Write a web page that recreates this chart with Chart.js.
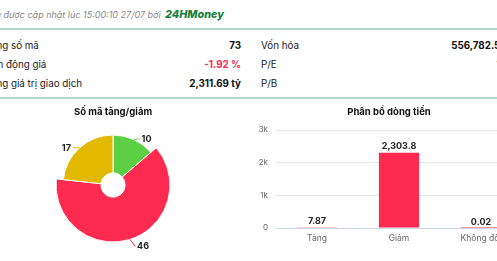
<!DOCTYPE html>
<html>
<head>
<meta charset="utf-8">
<script src="https://cdn.jsdelivr.net/npm/chart.js@4.4.0/dist/chart.umd.min.js"></script>
<style>
html, body { margin: 0; padding: 0; overflow: hidden; background: #fff; width: 497px; height: 261px; }
body { position: relative; font-family: Inter, "Noto Sans", sans-serif; color: #222; }
.abs { position: absolute; white-space: nowrap; }
.note { top: 8px; right: 273px; font-size: 9px; color: #8a8a8a; font-style: italic; }
.brand { font-size: 10.8px; font-weight: 800; color: #17803d; margin-left: 2px; }
.rule { left: 0; right: 0; height: 2px; background: #b3d8cc; }
.lbl { font-size: 9.8px; color: #222; }
.val { font-size: 9.8px; font-weight: 700; color: #111; text-align: right; }
.neg { color: #ff2a4f; }
</style>
</head>
<body>
<div class="abs note">Dữ liệu được cập nhật lúc 15:00:10 27/07 bởi <span class="brand">24HMoney</span></div>
<div class="abs rule" style="top:28px"></div>

<div class="abs lbl" style="left:-15px;top:40px">Tổng số mã</div>
<div class="abs val" style="right:256px;top:40px">73</div>
<div class="abs lbl" style="left:-17px;top:59px">Biến động giá</div>
<div class="abs val neg" style="right:256px;top:59px">-1.92 %</div>
<div class="abs lbl" style="left:-15px;top:78px">Tổng giá trị giao dịch</div>
<div class="abs val" style="right:256px;top:78px">2,311.69 tỷ</div>

<div class="abs lbl" style="left:261px;top:40px">Vốn hóa</div>
<div class="abs val" style="right:-22px;top:40px">556,782.54 tỷ</div>
<div class="abs lbl" style="left:261px;top:59px">P/E</div>
<div class="abs val" style="right:-26px;top:59px">13.45</div>
<div class="abs lbl" style="left:261px;top:78px">P/B</div>
<div class="abs val" style="right:-26px;top:78px">2.11</div>

<div class="abs rule" style="top:97px"></div>

<canvas id="pieChart" class="abs" width="226" height="160" style="left:0;top:100px"></canvas>
<canvas id="flowChart" class="abs" width="266" height="150" style="left:256px;top:100px"></canvas>

<script>
// pie: number of tickers up / down / unchanged
const pieLabels = ['Tăng', 'Giảm', 'Không đổi'];
const pieValues = [10, 46, 17];
const pieColors = ['#5ccf45', '#ff2a4f', '#e2b900'];

// bar: money flow distribution
const flowLabels = ['Tăng', 'Giảm', 'Không đổi'];
const flowValues = [7.87, 2303.8, 0.02];
const yTickLabels = ['0', '1k', '2k', '3k'];

const font = 'Inter, "Noto Sans", sans-serif';

// labels with short connectors next to each slice
const pieLabelPlugin = {
    id: 'pieLabels',
    afterDatasetUpdate(chart) {
        const meta = chart.getDatasetMeta(0);
        meta.data.forEach((arc, i) => {
            if (i !== 1) arc.outerRadius = 50;
        });
    },
    afterDatasetsDraw(chart) {
        const ctx = chart.ctx;
        const meta = chart.getDatasetMeta(0);
        ctx.save();
        ctx.font = 'bold 9px ' + font;
        ctx.textBaseline = 'middle';
        meta.data.forEach((arc, i) => {
            const a = (arc.startAngle + arc.endAngle) / 2;
            const r = arc.outerRadius;
            const x0 = arc.x + Math.cos(a) * r;
            const y0 = arc.y + Math.sin(a) * r;
            const y1 = arc.y + Math.sin(a) * (r + 4) + 3;
            const dir = Math.cos(a) >= 0 ? 1 : -1;
            const x2 = arc.x + Math.cos(a) * (r + 4) + dir * 4;
            ctx.strokeStyle = pieColors[i];
            ctx.lineWidth = 1;
            ctx.beginPath();
            ctx.moveTo(x0, y0);
            ctx.lineTo(x2, y1);
            ctx.stroke();
            ctx.fillStyle = '#222';
            ctx.textAlign = dir > 0 ? 'left' : 'right';
            ctx.fillText(String(pieValues[i]), x2 + dir * 2, y1);
        });
        ctx.restore();
    }
};

// value above each bar
const barLabelPlugin = {
    id: 'barLabels',
    afterDatasetsDraw(chart) {
        const ctx = chart.ctx;
        const meta = chart.getDatasetMeta(0);
        ctx.save();
        ctx.font = 'bold 9px ' + font;
        ctx.fillStyle = '#222';
        ctx.textAlign = 'center';
        ctx.textBaseline = 'middle';
        meta.data.forEach((bar, i) => {
            ctx.fillText(flowValues[i].toLocaleString('en-US'), bar.x, bar.y - 6);
        });
        ctx.restore();
    }
};

function createCharts() {
    new Chart(document.getElementById('pieChart').getContext('2d'), {
        type: 'doughnut',
        data: {
            labels: pieLabels,
            datasets: [{
                data: pieValues,
                backgroundColor: pieColors,
                borderColor: '#fff',
                borderWidth: 1,
                hoverOffset: 0,
                clip: false
            }]
        },
        options: {
            responsive: false,
            animation: false,
            radius: 57,
            cutout: 12,
            layout: { padding: { bottom: 18 } },
            plugins: {
                legend: { display: false },
                tooltip: { enabled: false },
                title: {
                    display: true,
                    text: 'Số mã tăng/giảm',
                    color: '#111',
                    font: { family: font, size: 9.5, weight: 'bold', lineHeight: 1.2 },
                    padding: { top: 6.5, bottom: 10.1 }
                }
            }
        },
        plugins: [pieLabelPlugin]
    });

    new Chart(document.getElementById('flowChart').getContext('2d'), {
        type: 'bar',
        data: {
            labels: flowLabels,
            datasets: [{
                data: flowValues,
                backgroundColor: '#ff2a4f',
                categoryPercentage: 1,
                barPercentage: 0.49
            }]
        },
        options: {
            responsive: false,
            animation: false,
            layout: { padding: 0 },
            scales: {
                x: {
                    grid: { display: false, drawTicks: false },
                    border: { display: false },
                    ticks: { color: '#666', font: { family: font, size: 8.5 }, padding: 5 },
                    afterFit(scale) { scale.height = 22; }
                },
                y: {
                    min: 0,
                    max: 3000,
                    ticks: {
                        stepSize: 1000,
                        color: '#666',
                        font: { family: font, size: 8 },
                        padding: 8,
                        callback: v => yTickLabels[v / 1000]
                    },
                    grid: {
                        drawTicks: false,
                        color: c => (c.tick && c.tick.value === 0) ? '#ccd6eb' : '#e6e6e6'
                    },
                    border: { display: false },
                    afterFit(scale) { scale.width = 20; }
                }
            },
            plugins: {
                legend: { display: false },
                tooltip: { enabled: false },
                title: {
                    display: true,
                    text: 'Phân bổ dòng tiền',
                    color: '#111',
                    font: { family: font, size: 9.5, weight: 'bold', lineHeight: 1.2 },
                    padding: { top: 6.5, bottom: 12.1 }
                }
            }
        },
        plugins: [barLabelPlugin]
    });
}

window.onload = createCharts;
</script>
</body>
</html>
